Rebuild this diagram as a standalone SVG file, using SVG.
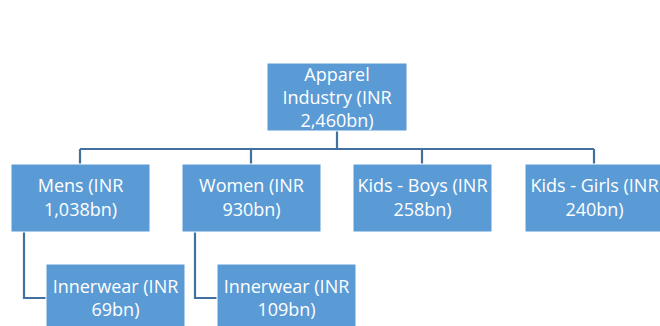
<svg xmlns="http://www.w3.org/2000/svg" width="660" height="326" viewBox="0 0 660 326">
<style>
.box{fill:#5B9BD5;stroke:#FFFFFF;stroke-width:1}
.t{font-family:"Open Sans","Liberation Sans",sans-serif;font-size:18px;fill:#FFFFFF;text-anchor:middle}
.c{fill:none;stroke:#41719C;stroke-width:2.2}
</style>
<rect width="660" height="326" fill="#FFFFFF"/>
<g id="connectors">
<path class="c" d="M337 131V149M80 149H594M80 149V164M251 149V164M422 149V164M594 149V164"/>
<path class="c" d="M24 232V298H46M195 232V298H217"/>
</g>
<g id="apparel"><rect class="box" x="267" y="63" width="140" height="68"/>
<text class="t" x="337" y="81">Apparel</text><text class="t" x="337" y="104">Industry (INR</text><text class="t" x="337" y="127">2,460bn)</text></g>
<g id="mens"><rect class="box" x="11" y="164" width="139" height="68"/>
<text class="t" x="80.5" y="192">Mens (INR</text><text class="t" x="80.5" y="216">1,038bn)</text></g>
<g id="women"><rect class="box" x="182" y="164" width="139" height="68"/>
<text class="t" x="251.5" y="192">Women (INR</text><text class="t" x="251.5" y="216">930bn)</text></g>
<g id="boys"><rect class="box" x="353" y="164" width="139" height="68"/>
<text class="t" x="422.5" y="192">Kids - Boys (INR</text><text class="t" x="422.5" y="216">258bn)</text></g>
<g id="girls"><rect class="box" x="525" y="164" width="139" height="68"/>
<text class="t" x="594.5" y="192">Kids - Girls (INR</text><text class="t" x="594.5" y="216">240bn)</text></g>
<g id="innerwear-mens"><rect class="box" x="46" y="264" width="139" height="68"/>
<text class="t" x="115.5" y="293">Innerwear (INR</text><text class="t" x="115.5" y="316">69bn)</text></g>
<g id="innerwear-women"><rect class="box" x="217" y="264" width="139" height="68"/>
<text class="t" x="286.5" y="293">Innerwear (INR</text><text class="t" x="286.5" y="316">109bn)</text></g>
</svg>
